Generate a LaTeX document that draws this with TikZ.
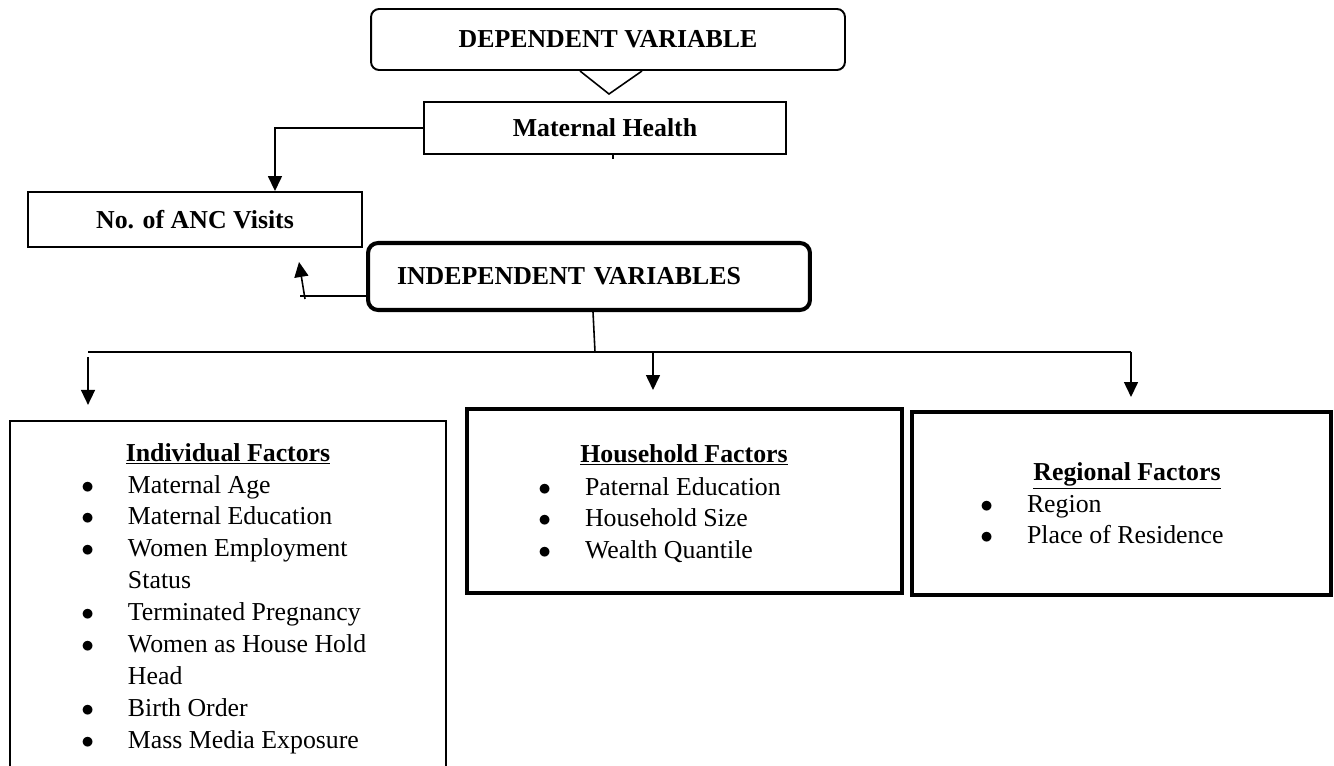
\documentclass[tikz,border=0pt]{standalone}
\usepackage{fontspec}
\setmainfont{Liberation Serif}
\usetikzlibrary{arrows.meta}
\newcommand{\txtsize}{\fontsize{14.7pt}{18.2pt}\selectfont}
\newcommand{\dotitem}{$\bullet$}

\begin{document}
\begin{tikzpicture}[x=0.02cm, y=-0.02cm,
    every node/.style={font=\txtsize, inner sep=0pt},
    varbox/.style={draw, line width=1.1pt, font=\txtsize\bfseries},
    factbox/.style={draw, line width=2.3pt},
    conn/.style={line width=0.9pt},
    arr/.style={conn, -{Triangle[width=0.28cm, length=0.3cm]}},
    hdr/.style={anchor=base, font=\txtsize\bfseries},
    items/.style={anchor=base west}]
  \useasboundingbox (0,0) rectangle (1334,766);
  \clip (0,0) rectangle (1334,766);
  % variable boxes
  \node[varbox, rounded corners=0.16cm, minimum width=9.48cm, minimum height=1.22cm] (dep) at (608,39.5) {DEPENDENT VARIABLE};
  \node[varbox, minimum width=7.24cm, minimum height=1.04cm] (mh) at (605,128) {Maternal Health};
  \node[varbox, minimum width=6.68cm, minimum height=1.1cm] (anc) at (195,219.5) {No. of ANC Visits};
  \node[varbox, line width=2.3pt, rounded corners=0.2cm, minimum width=8.84cm, minimum height=1.34cm,
        text width=7.68cm, inner xsep=0.58cm, align=left] (indep) at (589,276.5) {INDEPENDENT VARIABLES};
  % factor boxes
  \node[factbox, line width=1.3pt, minimum width=8.72cm, minimum height=7.58cm] (indiv) at (228,610.5) {};
  \node[factbox, minimum width=8.7cm, minimum height=3.68cm] (hh) at (684.5,501) {};
  \node[factbox, minimum width=8.38cm, minimum height=3.66cm] (reg) at (1121.5,503.5) {};
  \node[hdr] (indivhd) at (228,461) {\underline{Individual Factors}};
  \node[items] (indivlist) at (81,493) {\begin{tabular}[t]{@{}l@{\hspace{0.68cm}}l@{}}
      \dotitem & Maternal Age\\
      \dotitem & Maternal Education\\
      \dotitem & Women Employment\\
               & Status\\
      \dotitem & Terminated Pregnancy\\
      \dotitem & Women as House Hold\\
               & Head\\
      \dotitem & Birth Order\\
      \dotitem & Mass Media Exposure
    \end{tabular}};
  \node[hdr] (hhhd) at (684,462) {\underline{Household Factors}};
  \node[items] (hhlist) at (538,495) {\begin{tabular}[t]{@{}l@{\hspace{0.68cm}}l@{}}
      \dotitem & Paternal Education\\
      \dotitem & Household Size\\
      \dotitem & Wealth Quantile
    \end{tabular}};
  \node[hdr] (reghd) at (1127,480) {\underline{Regional Factors}};
  \node[items] (reglist) at (980,512) {\begin{tabular}[t]{@{}l@{\hspace{0.68cm}}l@{}}
      \dotitem & Region\\
      \dotitem & Place of Residence
    \end{tabular}};
  % connectors
  \coordinate (vl) at (580,71);
  \coordinate (vtip) at (609,94);
  \coordinate (vr) at (642,71);
  \draw[conn] (vl) -- (vtip) -- (vr);
  \draw[conn] ([xshift=0.16cm]mh.south) -- ++(0,4);
  \draw[arr] (mh.west) -| ([xshift=1.6cm]anc.north);
  \coordinate (bend) at (300,296);
  \coordinate (upfoot) at (305,299);
  \coordinate (uptip) at (299,262);
  \draw[conn] (indep.west |- bend) -- (bend);
  \draw[arr] (upfoot) -- (uptip);
  \coordinate (hub) at (595,352);
  \coordinate (busl) at (88,352);
  \coordinate (busr) at (1131,352);
  \draw[conn] ([xshift=0.08cm]indep.south) -- (hub);
  \draw[conn] (busl) -- (busr);
  \draw[arr] ([yshift=-0.1cm]busl) -- ([yshift=0.3cm]indiv.north -| busl);
  \draw[arr] (hub -| 653,0) -- ([yshift=0.34cm]hh.north -| 653,0);
  \draw[arr] (busr) -- ([yshift=0.26cm]reg.north -| busr);
\end{tikzpicture}
\end{document}
